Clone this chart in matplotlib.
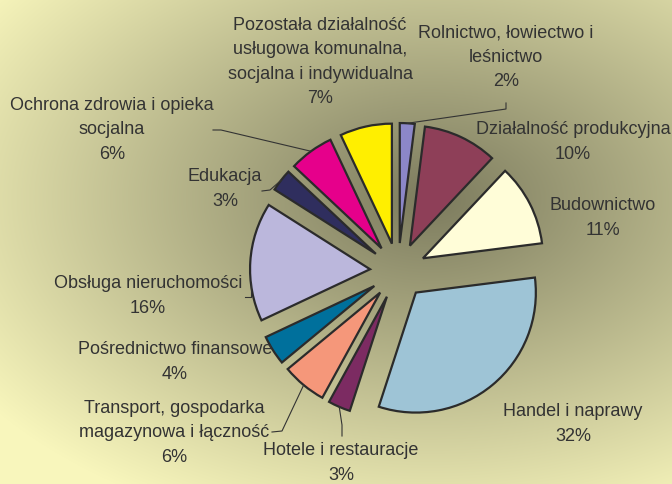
import numpy as np
import matplotlib
matplotlib.use("Agg")
import matplotlib.pyplot as plt

# Data: share of firms by sector (percent), clockwise from 12 o'clock
sectors = [
    "Rolnictwo, łowiectwo i\nleśnictwo",
    "Działalność produkcyjna",
    "Budownictwo",
    "Handel i naprawy",
    "Hotele i restauracje",
    "Transport, gospodarka\nmagazynowa i łączność",
    "Pośrednictwo finansowe",
    "Obsługa nieruchomości",
    "Edukacja",
    "Ochrona zdrowia i opieka\nsocjalna",
    "Pozostała działalność\nusługowa komunalna,\nsocjalna i indywidualna",
]
shares = [2, 10, 11, 32, 3, 6, 4, 16, 3, 6, 7]

colors = ["#8C87C8", "#8E3F58", "#FFFDD8", "#9EC4D6", "#7C2B62", "#F5977A",
          "#00709C", "#BBB7DC", "#2F2E5E", "#E6008B", "#FFEF00"]

W, H = 672, 485
plt.rcParams["font.family"] = ["Liberation Sans", "DejaVu Sans"]

fig = plt.figure(figsize=(W / 100, H / 100), dpi=100)
ax = fig.add_axes([0, 0, 1, 1])

# radial background gradient (olive centre -> pale yellow edges)
yy, xx = np.mgrid[0:H, 0:W]
d = np.sqrt(((xx - 430) / 520.0) ** 2 + ((yy - 200) / 330.0) ** 2)
v = np.clip(d * 0.95, 0, 1)[..., None]
dark = np.array([124, 123, 94]) / 255.0
light = np.array([248, 246, 188]) / 255.0
bg = dark + (light - dark) * v
ax.imshow(bg, extent=(0, W, 0, H), origin="upper", zorder=0)

# pie in pixel units (y measured from the bottom)
cx, cy, r, expl = 398, H - 272, 120, 28
wedges, _ = ax.pie(shares, colors=colors, startangle=90, counterclock=False,
                   radius=r, center=(cx, cy), explode=[expl] * len(shares),
                   frame=True,
                   wedgeprops=dict(edgecolor="#2b2b2b", linewidth=1.6))
for w in wedges:
    w.set_zorder(2)

# label block centres in pixels from top-left
label_pos = [(506, 57), (573, 142), (603, 218), (573, 424), (341, 463),
             (174, 433), (175, 362), (148, 296), (225, 189), (112, 130),
             (320, 62)]
pct_text = [f"{s}%" for s in shares]

for name, pct, (px, py) in zip(sectors, pct_text, label_pos):
    ax.text(px, H - py, name + "\n" + pct, ha="center", va="center",
            fontsize=13, color="#333333", linespacing=1.55, zorder=3)

# leader lines: label side points (pixels from top), then to the wedge arc
leaders = {
    0: [(506, 104), (506, 110)],
    4: [(342, 437), (342, 426)],
    5: [(272, 433), (282, 432)],
    8: [(262, 192), (270, 191)],
    9: [(213, 131), (221, 131)],
}
for i, pts in leaders.items():
    w = wedges[i]
    tm = np.deg2rad((w.theta1 + w.theta2) / 2)
    ex = w.center[0] + w.r * np.cos(tm)
    ey = w.center[1] + w.r * np.sin(tm)
    xs = [p[0] for p in pts] + [ex]
    ys = [H - p[1] for p in pts] + [ey]
    ax.plot(xs, ys, color="#333333", lw=0.8, zorder=3)

# small bracket for Obsługa nieruchomości
ax.plot([245, 251, 251], [H - 298, H - 298, H - 284], color="#333333",
        lw=0.8, zorder=3)

ax.set_xlim(0, W)
ax.set_ylim(0, H)
ax.set_aspect("auto")
ax.axis("off")

fig.savefig("out.png", dpi=100)
